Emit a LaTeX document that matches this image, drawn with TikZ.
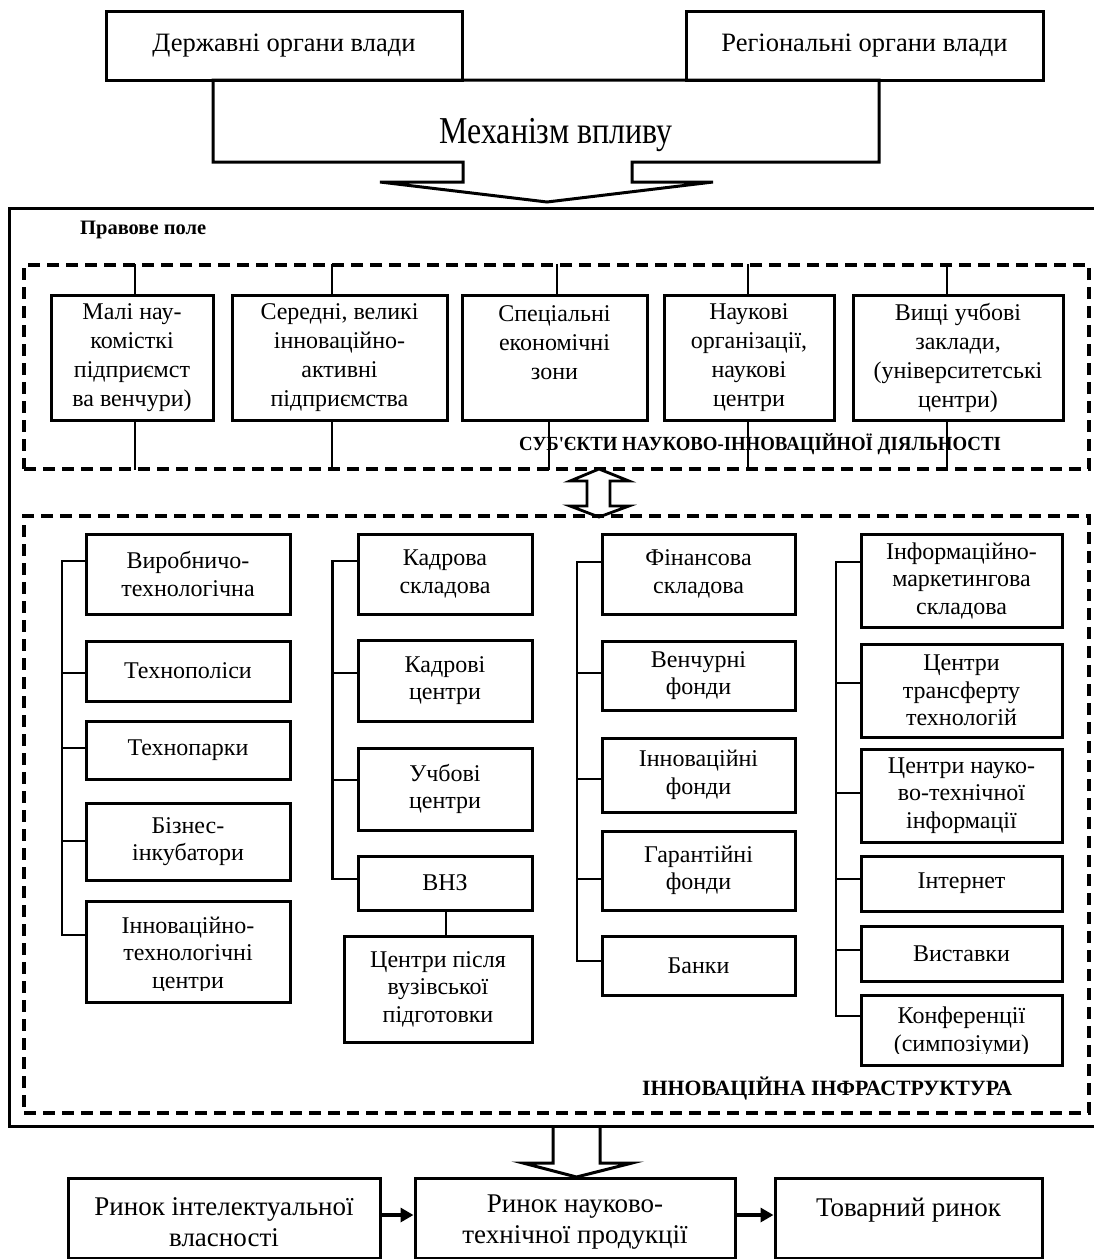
\documentclass[tikz,border=0pt]{standalone}
\usepackage{fontspec}
\setmainfont{Liberation Serif}
\usetikzlibrary{arrows.meta}
\begin{document}
\begin{tikzpicture}[x=1pt,y=-1pt,
  frame/.style={draw, line width=3pt, inner sep=0pt, align=center},
  up/.style={frame, font=\fontsize{24}{29}\selectfont},
  low/.style={frame, font=\fontsize{24}{27.5}\selectfont},
  txt/.style={inner sep=0pt, align=center},
  conn/.style={line width=2.7pt, line cap=rect},
  dbox/.style={draw, line width=3.3pt, dash pattern=on 12pt off 7pt, inner sep=0pt},
  ttl/.style={inner sep=0pt, font=\fontsize{20}{24}\selectfont\bfseries},
  harr/.style={line width=3.8pt, -{Triangle[length=13pt,width=14pt]}},
  bigarrow/.style={line width=3pt, line join=miter}
]
\useasboundingbox (0,0) rectangle (1094,1259);

% ---------- top ----------
\node[frame, minimum width=356pt, minimum height=69pt, font=\fontsize{26.5}{30}\selectfont] (gov) at (284,45.5) {Державні органи влади};
\node[frame, minimum width=357pt, minimum height=69pt, font=\fontsize{26.5}{30}\selectfont] (reg) at (864.5,45.5) {Регіональні органи влади};
\draw[bigarrow] (213,80) -- (213,162) -- (463,162) -- (463,182) -- (380,182) -- (547,202) -- (713,182) -- (632,182) -- (632,162) -- (879,162) -- (879,80) -- cycle;
\node[txt, anchor=base, font=\fontsize{38}{44}\selectfont] (mech) at (556,143) {\scalebox{0.84}[1]{Механізм впливу}};

% ---------- legal field ----------
\node[draw, line width=3pt, minimum width=1091pt, minimum height=918pt, inner sep=0pt] (field) at (554.5,667) {};
\node[ttl, anchor=base west, font=\fontsize{20.5}{24}\selectfont\bfseries] (pp) at (80,234) {Правове поле};

% ---------- subjects ----------
\node[dbox, minimum width=1065pt, minimum height=204pt] (sub) at (556.5,367) {};
\node[up, minimum width=162pt, minimum height=125pt] (s1) at (132,357.5) {Малі нау-\\комісткі\\підприємст\\ва венчури)};
\node[up, minimum width=215pt, minimum height=125pt] (s2) at (339.5,357.5) {Середні, великі\\інноваційно-\\активні\\підприємства};
\node[up, minimum width=185pt, minimum height=125pt] (s3) at (554.5,357.5) {Спеціальні\\економічні\\зони\\\mbox{}};
\node[up, minimum width=170pt, minimum height=125pt] (s4) at (749,357.5) {Наукові\\організації,\\наукові\\центри};
\node[up, minimum width=210pt, minimum height=125pt] (s5) at (958,357.5) {Вищі учбові\\заклади,\\(університетські\\центри)};
\foreach \n/\a/\b in {s1/135/135, s2/332/332, s3/557/549, s4/748/748, s5/947/947}{
  \draw[conn] (\a,265) -- (\n.north -| \a,265);
  \draw[conn] (\n.south -| \b,420) -- (\b,469);
}
\node[ttl, anchor=base west] (subl) at (519,450) {\scalebox{0.94}[1]{СУБ\textquotesingle ЄКТИ НАУКОВО-ІННОВАЦІЙНОЇ ДІЯЛЬНОСТІ}};

% double arrow
\draw[line width=2.8pt, fill=white, line join=miter] (599,469) -- (629,481) -- (610,481) -- (610,506) -- (629,506) -- (599,517) -- (570,506) -- (587,506) -- (587,481) -- (570,481) -- cycle;

% ---------- infrastructure ----------
\node[dbox, minimum width=1065pt, minimum height=597pt] (infra) at (556.5,814.5) {};

% column 1
\node[low, minimum width=204pt, minimum height=80pt] (b11) at (188,574) {Виробничо-\\технологічна};
\node[low, minimum width=204pt, minimum height=60pt] (b12) at (188,671) {Технополіси};
\node[low, minimum width=204pt, minimum height=58pt] (b13) at (188,750) {Технопарки};
\node[low, minimum width=204pt, minimum height=77pt] (b14) at (188,841.5) {Бізнес-\\інкубатори};
\node[low, minimum width=204pt, minimum height=101pt] (b15) at (188,951.5) {};
\begin{scope}
\clip (86,901) rectangle (290,990);
\node[txt, font=\fontsize{24}{27.5}\selectfont] (b15t) at (188,955) {Інноваційно-\\технологічні\\центри};
\end{scope}
\draw[conn] (62,561) -- (62,935);
\foreach \y in {561,673,748,841,935} \draw[conn] (62,\y) -- (b11.west |- 62,\y);

% column 2
\node[low, minimum width=174pt, minimum height=80pt] (b21) at (445,574) {Кадрова\\складова};
\node[low, minimum width=174pt, minimum height=81pt] (b22) at (445,680.5) {Кадрові\\центри};
\node[low, minimum width=174pt, minimum height=82pt] (b23) at (445,789) {Учбові\\центри};
\node[low, minimum width=174pt, minimum height=54pt] (b24) at (445,883) {ВНЗ};
\node[low, minimum width=188pt, minimum height=106pt] (b25) at (438,989) {Центри після\\вузівської\\підготовки};
\draw[conn] (332.5,561) -- (332.5,879);
\foreach \y in {561,673,780,879} \draw[conn] (332.5,\y) -- (b21.west |- 332.5,\y);
\draw[conn] (b24.south -| 446,0) -- (b25.north -| 446,0);

% column 3
\node[low, minimum width=193pt, minimum height=80pt] (b31) at (698.5,574) {Фінансова\\складова};
\node[low, minimum width=193pt, minimum height=69pt] (b32) at (698.5,675.5) {Венчурні\\фонди};
\node[low, minimum width=193pt, minimum height=74pt] (b33) at (698.5,775) {Інноваційні\\фонди};
\node[low, minimum width=193pt, minimum height=79pt] (b34) at (698.5,870.5) {Гарантійні\\фонди};
\node[low, minimum width=193pt, minimum height=59pt] (b35) at (698.5,965.5) {Банки};
\draw[conn] (577,562) -- (577,961);
\foreach \y in {562,673,779,879,961} \draw[conn] (577,\y) -- (b31.west |- 577,\y);

% column 4
\node[low, minimum width=201pt, minimum height=93pt] (b41) at (961.5,580.5) {Інформаційно-\\маркетингова\\складова};
\node[low, minimum width=201pt, minimum height=93pt] (b42) at (961.5,690.5) {Центри\\трансферту\\технологій};
\node[low, minimum width=201pt, minimum height=93pt] (b43) at (961.5,795.5) {Центри науко-\\во-технічної\\інформації};
\node[low, minimum width=201pt, minimum height=55pt] (b44) at (961.5,883.5) {Інтернет};
\node[low, minimum width=201pt, minimum height=55pt] (b45) at (961.5,953.5) {Виставки};
\node[low, minimum width=201pt, minimum height=70pt] (b46) at (961.5,1030) {};
\begin{scope}
\clip (861,995) rectangle (1062,1053);
\node[txt, font=\fontsize{24}{27.5}\selectfont] (b46t) at (961.5,1031.5) {Конференції\\(симпозіуми)};
\end{scope}
\draw[conn] (836,562) -- (836,1016);
\foreach \y in {562,683,793,879,950,1016} \draw[conn] (836,\y) -- (b41.west |- 836,\y);

\node[ttl, anchor=base west, font=\fontsize{21.8}{24}\selectfont\bfseries] (infl) at (642,1095) {ІННОВАЦІЙНА ІНФРАСТРУКТУРА};

% ---------- down arrow ----------
\draw[bigarrow] (553,1126) -- (553,1163) -- (523,1163) -- (576.5,1177) -- (632,1163) -- (600,1163) -- (600,1126);

% ---------- markets ----------
\node[frame, minimum width=312pt, minimum height=80pt] (p1) at (224,1218) {};
\node[frame, minimum width=320pt, minimum height=80pt] (p2) at (575,1218) {};
\node[frame, minimum width=267pt, minimum height=80pt] (p3) at (908.5,1218) {};
\node[txt, font=\fontsize{27}{31}\selectfont] (p1t) at (224,1222.5) {Ринок інтелектуальної\\власності};
\node[txt, font=\fontsize{27}{31}\selectfont] (p2t) at (575,1222.5) {Ринок науково-\\технічної продукції};
\node[txt, font=\fontsize{27}{31}\selectfont, anchor=base] (p3t) at (908.5,1216) {Товарний ринок};
\draw[harr] (p1.east |- 380,1215) -- (p2.west |- 415,1215);
\draw[harr] (p2.east |- 735,1215) -- (p3.west |- 775,1215);
\end{tikzpicture}
\end{document}
